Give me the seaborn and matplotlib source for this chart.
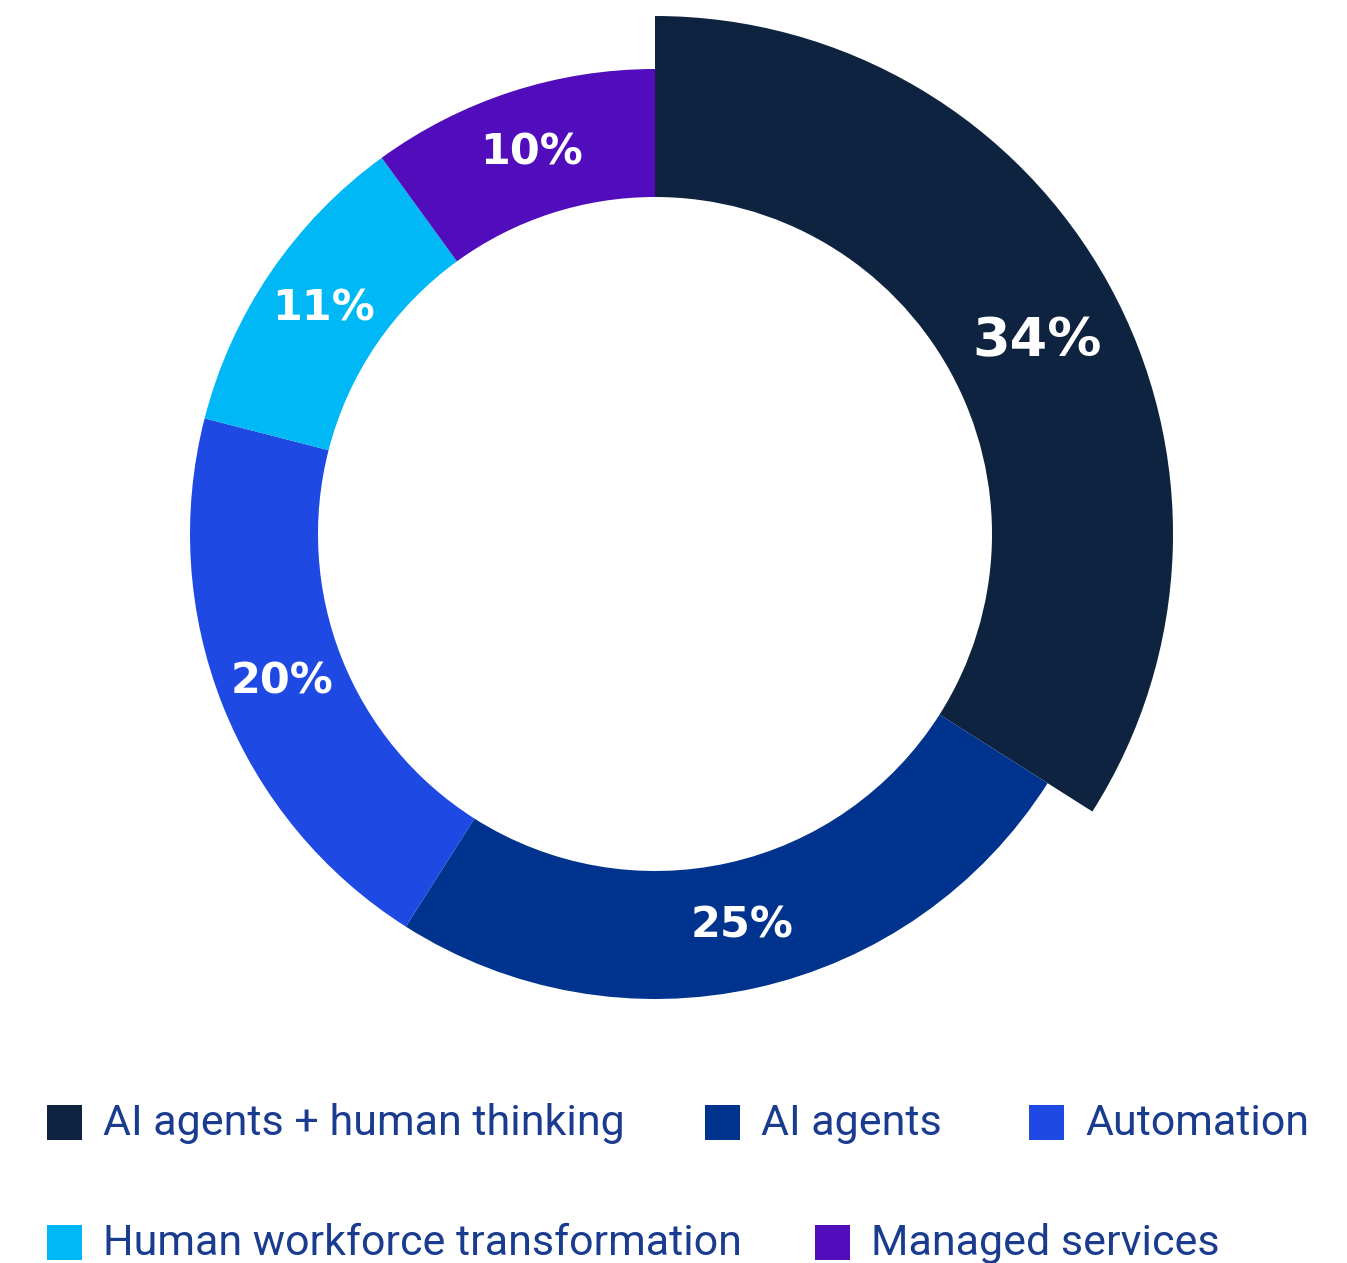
import matplotlib
matplotlib.use("Agg")
import matplotlib.pyplot as plt
import numpy as np
import seaborn as sns
from matplotlib.patches import Rectangle

# Share of responses by approach
categories = ["AI agents + human thinking", "AI agents", "Automation",
              "Human workforce transformation", "Managed services"]
values = [34, 25, 20, 11, 10]
colors = ["#0E2340", "#00338D", "#1E49E2", "#00B8F5", "#510DBC"]
highlight = 0  # slice drawn with an enlarged outer radius

sns.set_theme(style="white")
plt.rcParams["font.family"] = ["Roboto", "DejaVu Sans"]

W, H = 1347, 1263
fig = plt.figure(figsize=(W / 100, H / 100), dpi=100)
ax = fig.add_axes([0, 0, 1, 1])

cx, cy = 655, H - 534
r_in, r_out, r_big = 337, 465, 518

wedges, _ = ax.pie(values, colors=colors, startangle=90, counterclock=False,
                   center=(cx, cy), radius=r_out,
                   wedgeprops=dict(width=r_out - r_in, linewidth=0),
                   frame=True)
ax.set_xlim(0, W)
ax.set_ylim(0, H)
ax.axis("off")

wedges[highlight].set_radius(r_big)
wedges[highlight].set_width(r_big - r_in)

# Percentage labels at the middle of each ring segment
for i, (w, v) in enumerate(zip(wedges, values)):
    ang = np.deg2rad((w.theta1 + w.theta2) / 2)
    ro = r_big if i == highlight else r_out
    rm = (ro + r_in) / 2
    x = cx + rm * np.cos(ang)
    y = cy + rm * np.sin(ang)
    if i == highlight:
        x += 8
        y -= 13
    ax.text(x, y, f"{v}%", ha="center", va="center", color="white",
            fontsize=39 if i == highlight else 31, fontweight="bold",
            family=["DejaVu Sans"])

# Legend laid out in two rows
legend_pos = [(47, 1105), (705, 1105), (1029, 1105), (47, 1225), (815, 1225)]
sq = 35
text_color = "#1A3C8F"
for (lx, ly), lab, col in zip(legend_pos, categories, colors):
    ax.add_patch(Rectangle((lx, H - ly - sq), sq, sq, facecolor=col,
                           edgecolor="none"))
    ax.text(lx + 56, H - ly - sq / 2 - 1, lab, ha="left", va="center",
            color=text_color, fontsize=31, fontweight="normal")

fig.savefig("out.png", dpi=100, facecolor="white")
